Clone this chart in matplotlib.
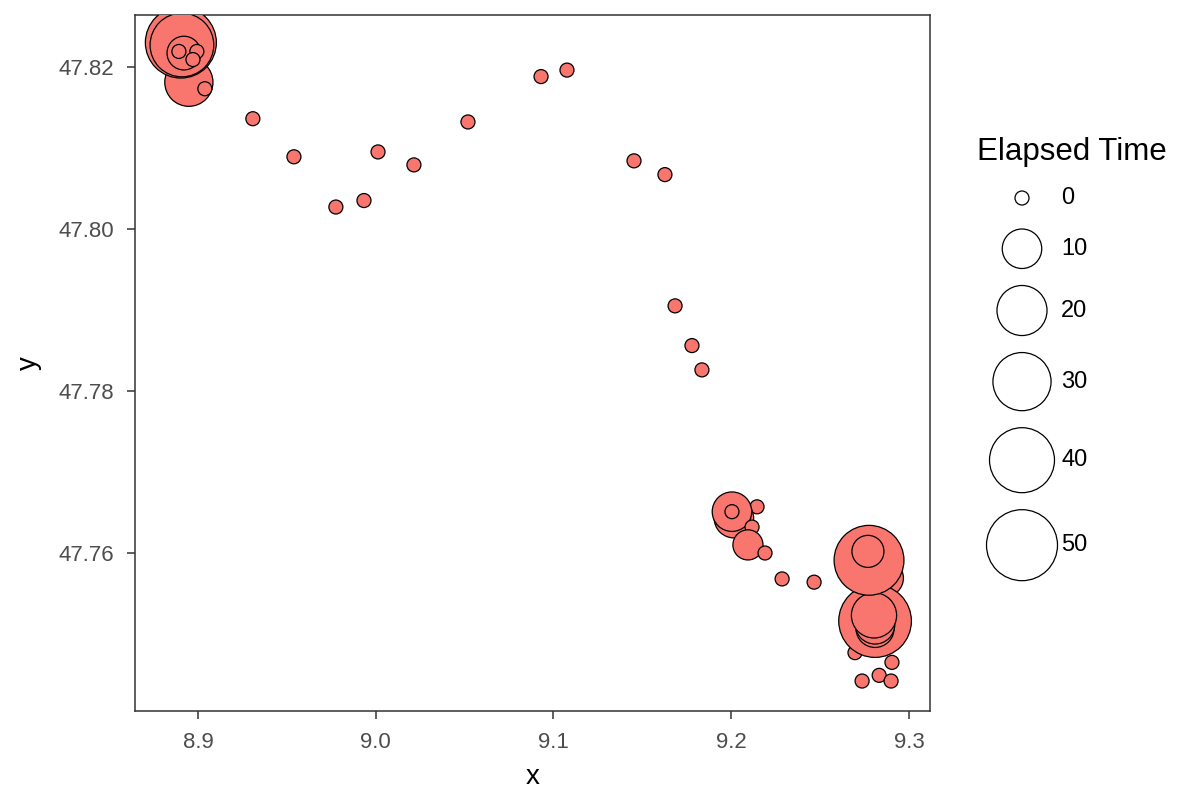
import numpy as np
import matplotlib
matplotlib.use("Agg")
import matplotlib.pyplot as plt

# track points (lon / lat) and elapsed time at each stop, in drawing order
lon = [8.8949, 8.8904, 8.8910, 8.8921, 8.8893, 8.8994, 8.8972, 8.9039,
       8.9309, 8.9540, 8.9776, 8.9934, 9.0013, 9.0215, 9.0519, 9.0930,
       9.1076, 9.1453, 9.1627, 9.1684, 9.1779, 9.1835,
       9.2145, 9.2015, 9.2004, 9.2004, 9.2117, 9.2094, 9.2190, 9.2286, 9.2466,
       9.2696, 9.2865, 9.2809, 9.2809, 9.2809, 9.2803, 9.2775, 9.2769,
       9.2904, 9.2832, 9.2736, 9.2899]
lat = [47.8181, 47.8230, 47.8227, 47.8217, 47.8219, 47.8219, 47.8209, 47.8173,
       47.8136, 47.8089, 47.8027, 47.8035, 47.8095, 47.8079, 47.8132, 47.8188,
       47.8196, 47.8084, 47.8067, 47.7905, 47.7856, 47.7826,
       47.7657, 47.7643, 47.7651, 47.7651, 47.7632, 47.7610, 47.7600, 47.7568, 47.7564,
       47.7477, 47.7569, 47.7516, 47.7507, 47.7512, 47.7523, 47.7591, 47.7602,
       47.7465, 47.7449, 47.7442, 47.7442]
elapsed = [18, 50, 38, 6, 0, 0, 0, 0,
           0, 0, 0, 0, 0, 0, 0, 0,
           0, 0, 0, 0, 0, 0,
           0, 10, 10, 0, 0, 4, 0, 0, 0,
           0, 8, 53, 9, 10, 15, 48, 5,
           0, 0, 0, 0]

x_ticks = [8.9, 9.0, 9.1, 9.2, 9.3]
y_ticks = [47.76, 47.78, 47.80, 47.82]
legend_breaks = [0, 10, 20, 30, 40, 50]

DPI = 100
FILL = "#F8766D"
GREY = "#333333"


def diam_px(t):
    # area scale like ggplot's scale_size: diameter grows with sqrt of value
    return 14 + 57 * np.sqrt(np.asarray(t, dtype=float) / 50.0)


def marker_area(t):
    return (diam_px(t) * 72.0 / DPI) ** 2


plt.rcParams["font.family"] = ["Liberation Sans", "DejaVu Sans"]

fig = plt.figure(figsize=(12, 8), dpi=DPI)
W, H = 1200, 800
ax = fig.add_axes([135 / W, 1 - 711 / H, (930 - 135) / W, (711 - 15) / H])

ax.scatter(lon, lat, s=marker_area(elapsed), c=FILL, edgecolors="black",
           linewidths=0.9, zorder=3, clip_on=True)

ax.set_xlim(8.8646, 9.3118)
ax.set_ylim(47.7405, 47.8264)

ax.set_xticks(x_ticks)
ax.set_yticks(y_ticks)
ax.set_xticklabels([f"{v:.1f}" for v in x_ticks])
ax.set_yticklabels([f"{v:.2f}" for v in y_ticks])
ax.tick_params(colors=GREY, labelcolor="#4D4D4D", labelsize=16, length=6,
               width=1.1)
ax.tick_params(axis="y", pad=9)
ax.tick_params(axis="x", pad=9)
for sp in ax.spines.values():
    sp.set_color(GREY)
    sp.set_linewidth(1.1)
ax.set_xlabel("x", fontsize=20, labelpad=8)
ax.set_ylabel("y", fontsize=20, labelpad=12)

# size legend drawn in pixel coordinates
lax = fig.add_axes([950 / W, 1 - 620 / H, 250 / W, 520 / H])
lax.set_xlim(950, 1200)
lax.set_ylim(620, 100)
lax.axis("off")
d = diam_px(legend_breaks)
ys = [198.0]
for i in range(1, len(d)):
    gap = 24 if i == 1 else 17
    ys.append(ys[-1] + (d[i - 1] + d[i]) / 2 + gap)
lax.scatter([1022] * len(ys), ys, s=marker_area(legend_breaks), facecolors="white",
            edgecolors="black", linewidths=0.9)
for yy, b in zip(ys, legend_breaks):
    lax.text(1061, yy, str(b), fontsize=17, va="center", ha="left")
lax.text(977, 152, "Elapsed Time", fontsize=22.5, va="center", ha="left")

fig.savefig("out.png", dpi=DPI)
